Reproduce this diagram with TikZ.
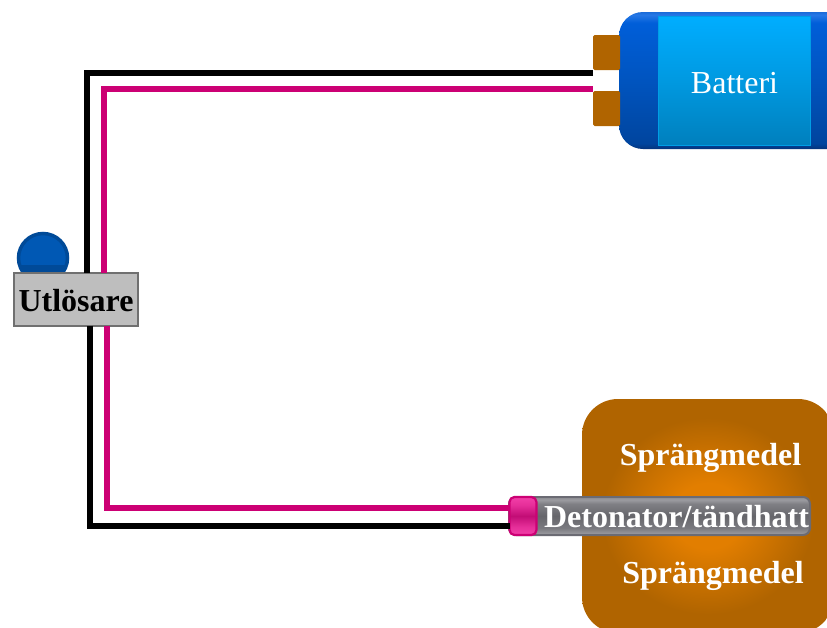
\documentclass[tikz,border=0pt]{standalone}
\usepackage{fontspec}
\setmainfont{Liberation Serif}
\definecolor{wirepink}{HTML}{CC0074}
\definecolor{termbrown}{HTML}{B06400}
\definecolor{btnblue}{HTML}{0058B4}
\definecolor{btnedge}{HTML}{004A98}
\definecolor{boomA}{HTML}{E27E00}
\definecolor{boomB}{HTML}{B06400}
\pgfdeclareverticalshading{battbody}{100bp}{
  rgb(0bp)=(0.02,0.20,0.48);
  rgb(25bp)=(0.02,0.20,0.48);
  rgb(27bp)=(0.00,0.27,0.62);
  rgb(50bp)=(0.00,0.33,0.75);
  rgb(71bp)=(0.00,0.37,0.85);
  rgb(74bp)=(0.15,0.47,0.90);
  rgb(75bp)=(0.10,0.42,0.85);
  rgb(100bp)=(0.10,0.42,0.85)}
\pgfdeclareverticalshading{battinner}{100bp}{
  rgb(0bp)=(0.00,0.50,0.74);
  rgb(25bp)=(0.00,0.50,0.74);
  rgb(50bp)=(0.00,0.60,0.88);
  rgb(75bp)=(0.00,0.68,1.00);
  rgb(100bp)=(0.00,0.68,1.00)}
\pgfdeclareverticalshading{detbar}{100bp}{
  rgb(0bp)=(0.62,0.62,0.64);
  rgb(25bp)=(0.62,0.62,0.64);
  rgb(29bp)=(0.56,0.56,0.58);
  rgb(34bp)=(0.48,0.48,0.50);
  rgb(50bp)=(0.40,0.40,0.42);
  rgb(66bp)=(0.50,0.50,0.52);
  rgb(71bp)=(0.60,0.60,0.62);
  rgb(75bp)=(0.58,0.58,0.60);
  rgb(100bp)=(0.58,0.58,0.60)}
\pgfdeclareverticalshading{detcap}{100bp}{
  rgb(0bp)=(0.95,0.25,0.66);
  rgb(25bp)=(0.95,0.25,0.66);
  rgb(36bp)=(0.90,0.18,0.60);
  rgb(50bp)=(0.76,0.05,0.46);
  rgb(64bp)=(0.90,0.18,0.60);
  rgb(75bp)=(0.95,0.25,0.66);
  rgb(100bp)=(0.95,0.25,0.66)}
\pgfdeclareradialshading{boom}{\pgfpoint{0bp}{0bp}}{
  color(0bp)=(boomA);color(7bp)=(boomA);color(21bp)=(boomB);color(50bp)=(boomB)}
\tikzset{
  x=1pt,y=-1pt,
  wireblack/.style={draw=black,line width=6pt,line join=miter},
  wiremag/.style={draw=wirepink,line width=6pt,line join=miter},
  blockbox/.style={inner sep=0pt,outer sep=0pt,minimum width=#1},
  terminal/.style={blockbox=27pt,minimum height=35pt,fill=termbrown,rounded corners=1.5pt},
  bodytext/.style={font=\fontsize{32}{32}\selectfont\bfseries,text=white,inner sep=0pt},
}
\begin{document}
\begin{tikzpicture}
\clip (0,0) rectangle (827,627);
\useasboundingbox (0,0) rectangle (827,627);
% battery
\node[blockbox=232pt,minimum height=137pt,rounded corners=24pt,shading=battbody] (batt) at (735,80.5) {};
\node[terminal] (t1) at (606.5,52.5) {};
\node[terminal] (t2) at (606.5,108.5) {};
\node[blockbox=152pt,minimum height=129pt,shading=battinner,draw={rgb,1:red,0;green,0.62;blue,0.9},line width=1.2pt] (cell) at (734.5,81) {};
\node[inner sep=0pt,text=white,font=\fontsize{32}{32}\selectfont] (cellText) at (734.5,83) {Batteri};
% wire corners
\coordinate (bTop) at (87,73);
\coordinate (mTop) at (104,89);
\coordinate (bBot) at (90,525.5);
\coordinate (mBot) at (107,508);
% explosive
\node[blockbox=252pt,minimum height=234pt,rounded corners=36pt,shading=boom] (charge) at (708,516) {};
\node[bodytext] (s1) at (710.5,458) {Sprängmedel};
\node[bodytext] (s2) at (713,576) {Sprängmedel};
% button
\node[circle,inner sep=0pt,minimum size=49pt,fill=btnblue,draw=btnedge,line width=3.5pt] (btn) at (43,258) {};
\begin{scope}
\clip (btn.center) circle (25);
\fill[btnedge] (0,265) rectangle (90,273);
\end{scope}
% detonator
\node[blockbox=301pt,minimum height=38pt,rounded corners=7pt,shading=detbar,draw={rgb,1:red,0.42;green,0.42;blue,0.45},line width=2pt,anchor=west] (det) at (509,516) {};
\node[bodytext] (dettext) at (676.5,517) {Detonator/tändhatt};
\node[blockbox=27pt,minimum height=38pt,rounded corners=5pt,shading=detcap,draw=wirepink,line width=2.2pt] (cap) at (523,516) {};
% trigger box
\node[blockbox=124pt,minimum height=53pt,fill={rgb,1:red,0.745;green,0.745;blue,0.745},draw={rgb,1:red,0.44;green,0.44;blue,0.44},line width=2pt] (trig) at (75.5,299) {};
\node[inner sep=0pt,font=\fontsize{32}{32}\selectfont\bfseries,text=black] (trigText) at (76,301) {Utlösare};
% wires
\draw[wireblack] (t1.west |- bTop) -- (bTop) -- (bTop |- trig.north);
\draw[wiremag] (t2.west |- mTop) -- (mTop) -- (mTop |- trig.north);
\draw[wireblack] (bBot |- trig.south) -- (bBot) -- (cap.west |- bBot);
\draw[wiremag] (mBot |- trig.south) -- (mBot) -- (cap.west |- mBot);
\end{tikzpicture}
\end{document}
